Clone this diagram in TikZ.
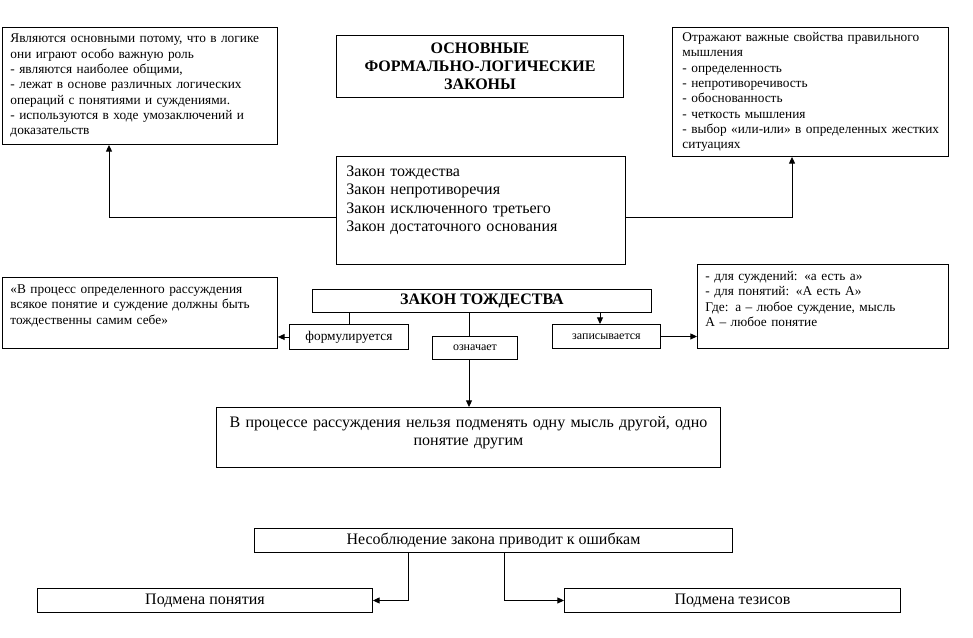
\documentclass[tikz,border=0pt]{standalone}
\usepackage{fontspec}
\setmainfont{Liberation Serif}
\usetikzlibrary{arrows.meta}

\begin{document}
\begin{tikzpicture}[x=0.75pt, y=-0.75pt, line width=0.7pt,
	tbox/.style={draw, anchor=north west, inner xsep=6pt, inner ysep=0pt, align=left},
	cbox/.style={draw, anchor=north west, inner sep=0pt, align=center},
	small/.style={font=\fontsize{10}{11.5}\selectfont},
	tiny/.style={font=\fontsize{9}{10}\selectfont},
	mid/.style={font=\fontsize{12}{13.7}\selectfont},
	arr/.style={-{Triangle[length=5pt,width=4.5pt]}}]
	\useasboundingbox (0,0) rectangle (973,637);
	% top row
	\node[tbox, small, text width=194.25pt, text height=11.5pt, text depth=76.25pt] (why) at (2,27)
		{Являются основными потому, что в логике\\ они играют особо важную роль\\ - являются наиболее общими,\\ - лежат в основе различных логических\\ операций с понятиями и суждениями.\\ - используются в ходе умозаключений и\\ доказательств};
	\node[cbox, minimum width=215.25pt, minimum height=46.5pt, font=\fontsize{12}{13.5}\selectfont\bfseries] (title) at (336,35)
		{ОСНОВНЫЕ\\ ФОРМАЛЬНО-ЛОГИЧЕСКИЕ\\ ЗАКОНЫ};
	\node[tbox, small, inner xsep=7.5pt, text width=192pt, text height=10.5pt, text depth=86.25pt] (props) at (672,27)
		{Отражают важные свойства правильного\\ мышления\\ - определенность\\ - непротиворечивость\\ - обоснованность\\ - четкость мышления\\ \mbox{- выбор «или-или» в определенных жестких}\\ ситуациях};
	\node[tbox, mid, inner xsep=7.5pt, text width=201.75pt, text height=15pt, text depth=66pt] (laws) at (336,156)
		{Закон тождества\\ Закон непротиворечия\\ Закон исключенного третьего\\ Закон достаточного основания};
	\draw[arr] (laws.north west) ++(0,61) -| (109,0 |- why.south);
	\draw[arr] (laws.north east) ++(0,61) -| (792,0 |- props.south);
	% law of identity
	\node[cbox, minimum width=254.25pt, minimum height=17.25pt, font=\fontsize{12}{13.7}\selectfont\bfseries] (ident) at (312,289) {ЗАКОН ТОЖДЕСТВА};
	\node[tbox, small, text width=194.25pt, text height=12pt, text depth=41.25pt] (quote) at (2,277)
		{«В процесс определенного рассуждения\\ всякое понятие и суждение должны быть\\ тождественны самим себе»};
	\node[cbox, small, minimum width=89.25pt, minimum height=18.75pt] (form) at (289,324) {формулируется};
	\node[cbox, tiny, minimum width=63.75pt, minimum height=17.25pt] (means) at (432,336) {означает};
	\node[cbox, tiny, minimum width=81pt, minimum height=18pt] (writes) at (552,324) {записывается};
	\node[tbox, small, text width=176.25pt, text height=12pt, text depth=51pt] (notation) at (697,264)
		{- для суждений: «а есть а»\\ - для понятий: «А есть А»\\ Где: а – любое суждение, мысль\\ А – любое понятие};
	\node[tbox, mid, align=center, text width=366pt, text height=15pt, text depth=30pt] (rule) at (216,407)
		{В процессе рассуждения нельзя подменять одну мысль другой, одно\\ понятие другим};
	\draw (form.north) -- (form.north |- ident.south);
	\draw[arr] (form.west) -- (quote.east |- form.west);
	\draw (469,0 |- ident.south) -- (469,0 |- means.north);
	\draw[arr] (469,0 |- means.south) -- (469,0 |- rule.north);
	\draw[arr] (600,0 |- ident.south) -- (600,0 |- writes.north);
	\draw[arr] (writes.east) -- (notation.west |- writes.east);
	% errors
	\node[cbox, mid, minimum width=358.5pt, minimum height=18pt] (errors) at (254,528) {Несоблюдение закона приводит к ошибкам};
	\node[cbox, mid, minimum width=251.25pt, minimum height=18pt] (concept) at (37,588) {Подмена понятия};
	\node[cbox, mid, minimum width=252pt, minimum height=18pt] (thesis) at (564,588) {Подмена тезисов};
	\draw[arr] (408,0 |- errors.south) |- (concept.east);
	\draw[arr] (504,0 |- errors.south) |- (thesis.west);
\end{tikzpicture}
\end{document}
